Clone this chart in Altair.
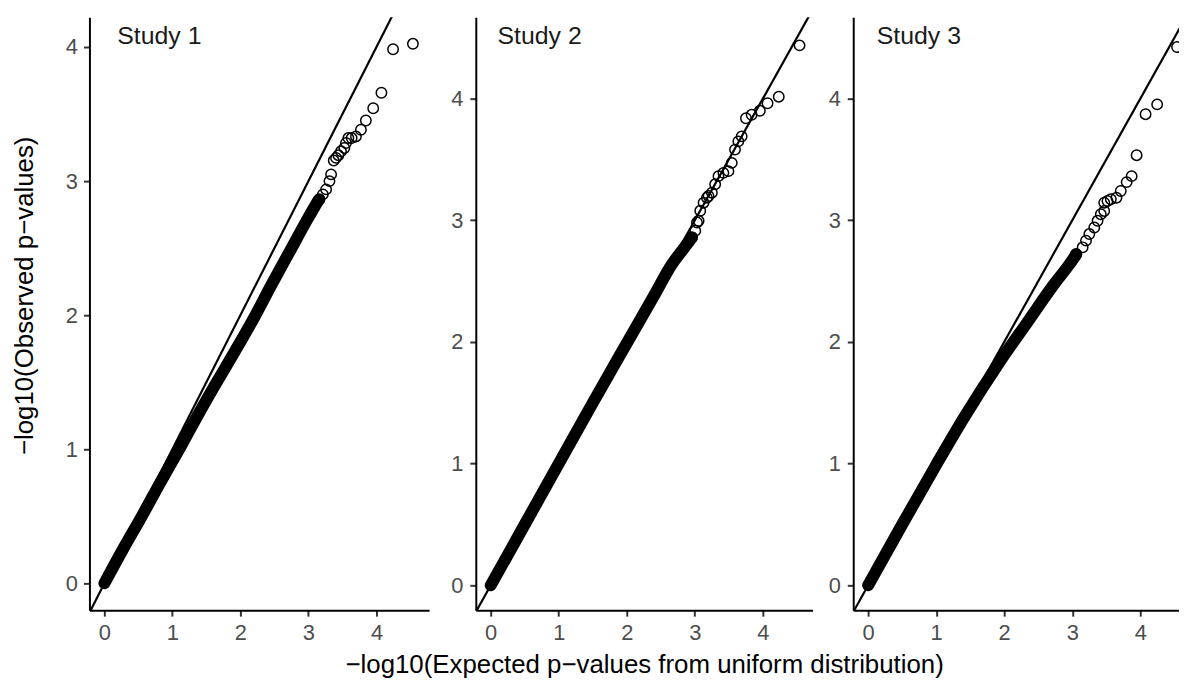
import altair as alt
import pandas as pd

M = "\u2212"

study_names = ["Study 1", "Study 2", "Study 3"]
label_x = [0.19, 0.10, 0.127]
label_y = [4.024, 4.45, 4.45]

# centre line of the dense (overlapping) part of each QQ cloud
band1_x = [0.0, 0.28, 0.55, 0.82, 1.10, 1.37, 1.64, 1.93, 2.21, 2.45, 2.73, 2.99, 3.15]
band1_y = [0.0, 0.26, 0.50, 0.75, 1.00, 1.25, 1.49, 1.74, 1.99, 2.22, 2.48, 2.72, 2.86]
band2_x = [0.0, 0.5, 1.0, 1.5, 2.0, 2.4, 2.667, 2.813, 2.959]
band2_y = [0.0, 0.5, 1.0, 1.5, 1.99, 2.38, 2.642, 2.751, 2.86]
band3_x = [0.0, 0.5, 1.0, 1.4, 1.95, 2.35, 2.72, 2.96, 3.06]
band3_y = [0.0, 0.5, 0.99, 1.37, 1.85, 2.17, 2.465, 2.64, 2.72]

# individually visible points in the upper tail
tail1_x = [3.163, 3.212, 3.26, 3.309, 3.333, 3.372, 3.406, 3.44, 3.479, 3.528, 3.552, 3.587,
           3.635, 3.698, 3.771, 3.844, 3.952, 4.073, 4.244, 4.536]
tail1_y = [2.864, 2.901, 2.938, 3.0, 3.05, 3.153, 3.173, 3.193, 3.222, 3.247, 3.284, 3.321,
           3.321, 3.333, 3.383, 3.452, 3.543, 3.659, 3.983, 4.024]
tail2_x = [2.959, 3.007, 3.032, 3.056, 3.08, 3.129, 3.178, 3.202, 3.251, 3.299, 3.348, 3.42,
           3.494, 3.543, 3.591, 3.64, 3.689, 3.752, 3.835, 3.956, 4.069, 4.234, 4.54]
tail2_y = [2.86, 2.914, 2.982, 2.996, 3.078, 3.145, 3.186, 3.2, 3.227, 3.296, 3.363, 3.39,
           3.404, 3.472, 3.581, 3.649, 3.69, 3.839, 3.867, 3.9, 3.962, 4.016, 4.438]
tail3_x = [3.056, 3.153, 3.202, 3.251, 3.324, 3.372, 3.42, 3.47, 3.47, 3.518, 3.567, 3.65,
           3.713, 3.8, 3.873, 3.946, 4.078, 4.248, 4.54]
tail3_y = [2.724, 2.778, 2.833, 2.887, 2.941, 2.996, 3.05, 3.077, 3.145, 3.159, 3.173, 3.186,
           3.241, 3.314, 3.363, 3.535, 3.872, 3.953, 4.424]

tick_vals = [0, 1, 2, 3, 4]
diag_df = pd.DataFrame({"x": [-1.0], "y": [-1.0], "x2": [6.0], "y2": [6.0]})

FONT = "Liberation Sans"


def panel(idx, bx, by, tx, ty, xdom, ydom, width, xrange, xtitle, ytitle, ylabpad):
    sk = dict(domain=xdom, nice=False, zero=False)
    if xrange is not None:
        sk["range"] = xrange
    xs = alt.Scale(**sk)
    ys = alt.Scale(domain=ydom, nice=False, zero=False)
    if xtitle:
        xaxis = alt.Axis(values=tick_vals, format="d", title=xtitle, titleY=63,
                         titleBaseline="alphabetic", labelPadding=7)
    else:
        xaxis = alt.Axis(values=tick_vals, format="d", title=None, labelPadding=7)
    if ytitle:
        yaxis = alt.Axis(values=tick_vals, format="d", title=ytitle, titleX=-57, titleY=280,
                         titleAngle=270, titleBaseline="alphabetic", titleAlign="center",
                         labelPadding=ylabpad)
    else:
        yaxis = alt.Axis(values=tick_vals, format="d", title=None, labelPadding=ylabpad)

    X = alt.X("x:Q", scale=xs, axis=xaxis)
    Y = alt.Y("y:Q", scale=ys, axis=yaxis)

    band_df = pd.DataFrame({"x": bx, "y": by, "i": list(range(len(bx)))})
    tail_df = pd.DataFrame({"x": tx, "y": ty})
    lab_df = pd.DataFrame({"x": [label_x[idx]], "y": [label_y[idx]], "label": [study_names[idx]]})

    band = alt.Chart(band_df).mark_line(
        color="black", strokeWidth=12, strokeCap="round", strokeJoin="round",
        interpolate="monotone", clip=True
    ).encode(x=X, y=Y, order=alt.Order("i:Q"))
    pts = alt.Chart(tail_df).mark_point(
        shape="circle", filled=False, color="black", size=110, strokeWidth=1.5, opacity=1, clip=True
    ).encode(x=X, y=Y)
    diag = alt.Chart(diag_df).mark_rule(color="black", strokeWidth=2.2, clip=True).encode(
        x=X, y=Y, x2=alt.X2("x2:Q"), y2=alt.Y2("y2:Q")
    )
    txt = alt.Chart(lab_df).mark_text(
        align="left", baseline="alphabetic", fontSize=25, color="#1a1a1a", font=FONT
    ).encode(x=X, y=Y, text="label:N")
    return alt.layer(band, pts, diag, txt).properties(width=width, height=597)


p1 = panel(0, band1_x, band1_y, tail1_x, tail1_y, [-0.219, 4.774], [-0.2, 4.222], 348, [0, 342],
           None, f"{M}log10(Observed p{M}values)", 6)
p2 = panel(1, band2_x, band2_y, tail2_x, tail2_y, [-0.219, 4.73], [-0.204, 4.669], 339, None,
           f"{M}log10(Expected p{M}values from uniform distribution)", None, 7)
p3 = panel(2, band3_x, band3_y, tail3_x, tail3_y, [-0.219, 4.569], [-0.204, 4.669], 328, None,
           None, None, 7)

chart = alt.hconcat(p1, p2, p3, spacing=41, bounds="flush").properties(
    padding={"left": 4, "top": 7, "right": 0, "bottom": 0}
).configure_view(stroke=None).configure_axis(
    domainColor="black", domainWidth=2, tickColor="#333333", tickWidth=2, tickSize=6,
    labelFontSize=22, labelColor="#4D4D4D", labelFont=FONT, titleFont=FONT,
    titleFontSize=26, titleFontWeight="normal", titleColor="black", grid=False
)

chart.save("out.html", embed_options={"renderer": "svg", "actions": False})
